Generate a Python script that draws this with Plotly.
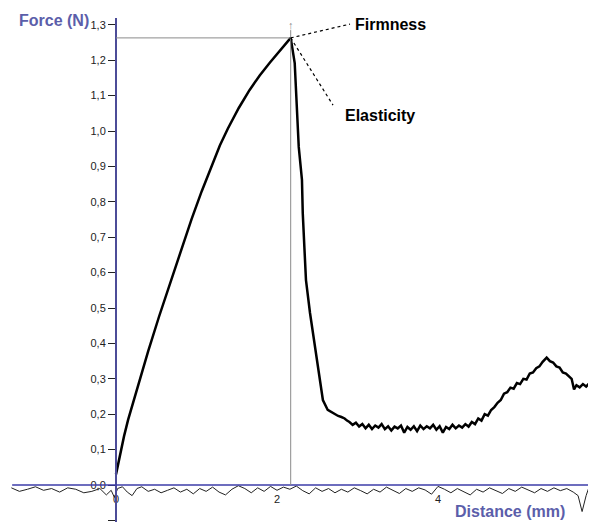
import plotly.graph_objects as go

# ---- data ----
dist_main = [0.00, 0.05, 0.10, 0.15, 0.275, 0.40, 0.535, 0.67, 0.805, 0.94, 1.065, 1.19, 1.29,
             1.39, 1.525, 1.66, 1.785, 1.91, 2.04, 2.17,
             2.22, 2.27, 2.31, 2.32, 2.34, 2.36, 2.41, 2.47, 2.53, 2.57, 2.63, 2.68, 2.72, 2.76,
             2.80, 2.84, 2.87,
             2.90, 2.94, 2.98, 3.02, 3.06, 3.10, 3.14, 3.18, 3.22, 3.26, 3.30, 3.34, 3.38, 3.42,
             3.46, 3.50, 3.54, 3.58, 3.62, 3.66, 3.70, 3.74, 3.78, 3.82, 3.86, 3.90, 3.94, 3.98,
             4.02, 4.06, 4.10, 4.14, 4.18, 4.22, 4.26, 4.30, 4.34, 4.38, 4.42, 4.46,
             4.50, 4.54, 4.58, 4.62, 4.66, 4.70, 4.74, 4.78, 4.82, 4.86, 4.90, 4.94, 4.98, 5.02,
             5.06, 5.10, 5.14, 5.18, 5.22, 5.26, 5.30, 5.35, 5.39, 5.43, 5.47, 5.51, 5.55, 5.59,
             5.63, 5.66, 5.69, 5.72, 5.76, 5.80, 5.84, 5.88, 5.92, 5.96]
force_main = [0.030, 0.085, 0.138, 0.184, 0.283, 0.378, 0.476, 0.570, 0.662, 0.752, 0.830, 0.905,
              0.959, 1.007, 1.065, 1.116, 1.157, 1.193, 1.229, 1.263,
              1.192, 0.955, 0.862, 0.768, 0.672, 0.579, 0.486, 0.390, 0.297, 0.240, 0.212, 0.205,
              0.200, 0.195, 0.192, 0.188, 0.182,
              0.178, 0.170, 0.176, 0.165, 0.172, 0.160, 0.170, 0.158, 0.168, 0.162, 0.172, 0.158,
              0.166, 0.154, 0.165, 0.160, 0.168, 0.148, 0.164, 0.156, 0.166, 0.152, 0.168, 0.158,
              0.166, 0.160, 0.170, 0.156, 0.166, 0.148, 0.164, 0.158, 0.170, 0.160, 0.168, 0.162,
              0.172, 0.165, 0.178, 0.172,
              0.188, 0.182, 0.200, 0.196, 0.212, 0.220, 0.232, 0.240, 0.258, 0.262, 0.275, 0.272,
              0.288, 0.285, 0.300, 0.298, 0.315, 0.318, 0.330, 0.335, 0.348, 0.360, 0.350, 0.346,
              0.335, 0.332, 0.318, 0.315, 0.305, 0.300, 0.270, 0.282, 0.276, 0.285, 0.278, 0.288,
              0.280, 0.286]

dist_base = [-1.30, -1.20, -1.10, -1.00, -0.90, -0.80, -0.70, -0.60, -0.50, -0.40, -0.30, -0.20,
             -0.12, -0.06, -0.02, 0.02, 0.08, 0.14, 0.20, 0.26, 0.32, 0.40, 0.48, 0.56, 0.64, 0.72,
             0.80, 0.88, 0.96, 1.04, 1.12, 1.20, 1.28, 1.36, 1.44, 1.52, 1.60, 1.68, 1.76, 1.84,
             1.92, 2.00, 2.08, 2.16, 2.24, 2.32, 2.40, 2.48, 2.56, 2.64, 2.72, 2.80, 2.88, 2.96,
             3.04, 3.12, 3.20, 3.28, 3.36, 3.44, 3.52, 3.60, 3.68, 3.76, 3.84, 3.92, 4.00, 4.08,
             4.16, 4.24, 4.32, 4.40, 4.48, 4.56, 4.64, 4.72, 4.80, 4.88, 4.96, 5.04, 5.12, 5.20,
             5.28, 5.36, 5.44, 5.52, 5.60, 5.68, 5.74, 5.79, 5.84, 5.90, 5.96]
force_base = [-0.008, -0.018, -0.012, -0.005, -0.015, -0.010, -0.020, -0.008, -0.012, -0.022,
              -0.018, -0.010, -0.028, -0.015, -0.035, -0.010, -0.005, -0.020, -0.030, -0.010,
              -0.005, -0.018, -0.012, -0.022, -0.015, -0.008, -0.020, -0.012, -0.025, -0.010,
              -0.018, -0.006, -0.020, -0.028, -0.012, -0.002, -0.010, -0.022, -0.008, -0.018,
              -0.004, -0.015, -0.006, -0.012, -0.003, -0.016, -0.025, -0.008, -0.018, -0.010,
              -0.022, -0.012, -0.020, -0.008, -0.016, -0.025, -0.012, -0.020, -0.006, -0.015,
              -0.024, -0.010, -0.018, -0.008, -0.014, -0.026, -0.004, -0.012, -0.022, -0.010,
              -0.018, -0.028, -0.012, -0.020, -0.008, -0.016, -0.024, -0.010, -0.018, -0.006,
              -0.014, -0.022, -0.010, -0.018, -0.008, -0.016, -0.010, -0.020, -0.030, -0.075,
              -0.030, 0.010, 0.085]

peak_dist = 2.17
peak_force = 1.263
y_ticks = [-0.1, 0.0, 0.1, 0.2, 0.3, 0.4, 0.5, 0.6, 0.7, 0.8, 0.9, 1.0, 1.1, 1.2, 1.3]
x_ticks = [0, 2, 4]

# page has a default 8px body margin: the figure starts at (8, 8)
OFF = 8
PW, PH = 596, 522
W, H = PW - OFF, PH - OFF
X0PX, XSCALE = 116, 80.5     # pixel of distance 0, pixels per mm
Y0PX, YSCALE = 485, 354.0    # pixel of force 0, pixels per N
x_range = [(OFF - X0PX) / XSCALE, (PW - X0PX) / XSCALE]
y_range = [(Y0PX - PH) / YSCALE, (Y0PX - OFF) / YSCALE]


def px_x(px):
    return (px - OFF) / W


def px_y(py):
    return 1 - (py - OFF) / H


fig = go.Figure()
fig.add_trace(go.Scatter(x=dist_base, y=force_base, mode="lines",
                         line=dict(color="#222222", width=1), hoverinfo="skip"))
fig.add_trace(go.Scatter(x=dist_main, y=force_main, mode="lines",
                         line=dict(color="#000000", width=2.5), hoverinfo="skip"))

axis_blue = "#4c4c98"
shapes = [
    dict(type="line", xref="x", yref="y", x0=0, x1=0, y0=y_range[0], y1=1.319,
         line=dict(color=axis_blue, width=2)),
    dict(type="line", xref="x", yref="y", x0=-1.29, x1=x_range[1], y0=0, y1=0,
         line=dict(color="#3c3ca8", width=1.3)),
    dict(type="line", xref="x", yref="y", x0=0, x1=peak_dist, y0=peak_force, y1=peak_force,
         line=dict(color="#8a8a8a", width=1)),
    dict(type="line", xref="x", yref="y", x0=peak_dist, x1=peak_dist, y0=0, y1=1.285,
         line=dict(color="#8a8a8a", width=1)),
    dict(type="line", xref="x", yref="y", x0=peak_dist, x1=2.907, y0=peak_force, y1=1.302,
         line=dict(color="#000000", width=1.2, dash="dot")),
    dict(type="line", xref="x", yref="y", x0=peak_dist, x1=2.696, y0=peak_force, y1=1.073,
         line=dict(color="#000000", width=1.2, dash="dot")),
]

lab_font = dict(family="Arial, Liberation Sans, sans-serif", size=16, color="#000000")
title_font = dict(family="Arial, Liberation Sans, sans-serif", size=16, color="#5b5eaa")
annotations = [
    dict(text="<b>Firmness</b>", x=px_x(353), y=px_y(25), xref="paper", yref="paper",
         xanchor="left", yanchor="middle", showarrow=False, font=lab_font),
    dict(text="<b>Elasticity</b>", x=px_x(343), y=px_y(115), xref="paper", yref="paper",
         xanchor="left", yanchor="middle", showarrow=False, font=lab_font),
    dict(text="<b>Force (N)</b>", x=px_x(17), y=px_y(20), xref="paper", yref="paper",
         xanchor="left", yanchor="middle", showarrow=False, font=title_font),
    dict(text="<b>Distance (mm)</b>", x=px_x(453), y=px_y(511), xref="paper", yref="paper",
         xanchor="left", yanchor="middle", showarrow=False, font=title_font),
    dict(text="↑", x=peak_dist, y=1.30, xref="x", yref="y", xanchor="center", yanchor="middle",
         showarrow=False, font=dict(family="Arial", size=11, color="#888888")),
]

tick_font = dict(family="Arial, Liberation Sans, sans-serif", size=11, color="#222222")
fig.update_layout(
    width=W, height=H,
    margin=dict(l=0, r=0, t=0, b=0),
    paper_bgcolor="white", plot_bgcolor="white",
    showlegend=False,
    separators=",.",
    shapes=shapes,
    annotations=annotations,
    xaxis=dict(range=x_range, showgrid=False, zeroline=False, showline=False,
               anchor="free", position=px_y(Y0PX),
               tickmode="array", tickvals=x_ticks, ticktext=[str(v) for v in x_ticks],
               ticks="outside", ticklen=4, tickcolor="rgba(0,0,0,0)",
               tickfont=tick_font, automargin=False),
    yaxis=dict(range=y_range, showgrid=False, zeroline=False, showline=False,
               anchor="free", position=px_x(X0PX),
               tickmode="array", tickvals=y_ticks, tickformat=".1f",
               ticks="outside", ticklen=8, tickcolor="#222222", tickwidth=1,
               tickfont=tick_font, automargin=False),
)

fig.write_html("out.html")
